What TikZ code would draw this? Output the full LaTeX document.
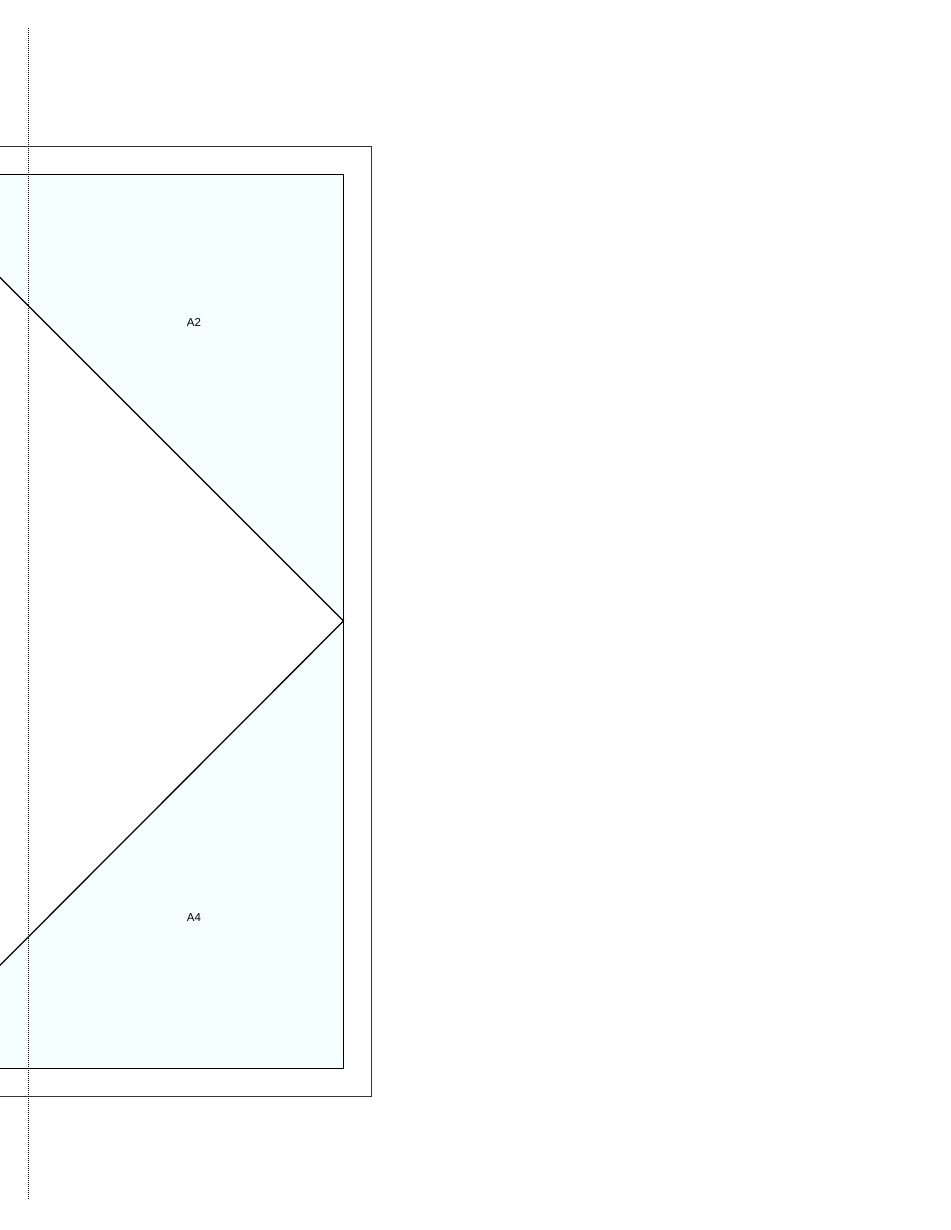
\documentclass[tikz,border=0pt]{standalone}
\usepackage{fontspec}
\setmainfont{Liberation Sans}
\definecolor{panelfill}{RGB}{245,255,255}
\tikzset{
  frameline/.style={line width=0.7pt,draw=black!80},
  panelline/.style={line width=1.3pt,draw=black},
  foldline/.style={line width=1.3pt,draw=black},
  guideline/.style={line width=0.8pt,dash pattern=on 1pt off 1pt},
  panellabel/.style={font=\fontsize{11.5}{13}\selectfont,inner sep=0pt}
}
\begin{document}
\begin{tikzpicture}[x=1pt,y=-1pt]
  \useasboundingbox (0,0) rectangle (950,1230);
  \clip (0,0) rectangle (950,1230);
  % outer frame and panel
  \draw[frameline] (-150,146.5) rectangle (371.5,1096.5);
  \fill[panelfill] (-120,174.5) rectangle (343.5,1068.5);
  \coordinate (apex) at (343.5,621);
  \coordinate (tl) at (-103,174.5);
  \coordinate (bl) at (-103,1068.5);
  \fill[white] (tl) -- (apex) -- (bl) -- cycle;
  \draw[panelline] (-120,174.5) rectangle (343.5,1068.5);
  \draw[foldline] (tl) -- (apex) -- (bl);
  % labels
  \node[panellabel] (a2) at (194,322) {A2};
  \node[panellabel] (a4) at (194,918) {A4};
  % guide
  \coordinate (g1) at (28.5,28);
  \coordinate (g2) at (28.5,1200);
  \draw[guideline] (g1) -- (g2);
\end{tikzpicture}
\end{document}
